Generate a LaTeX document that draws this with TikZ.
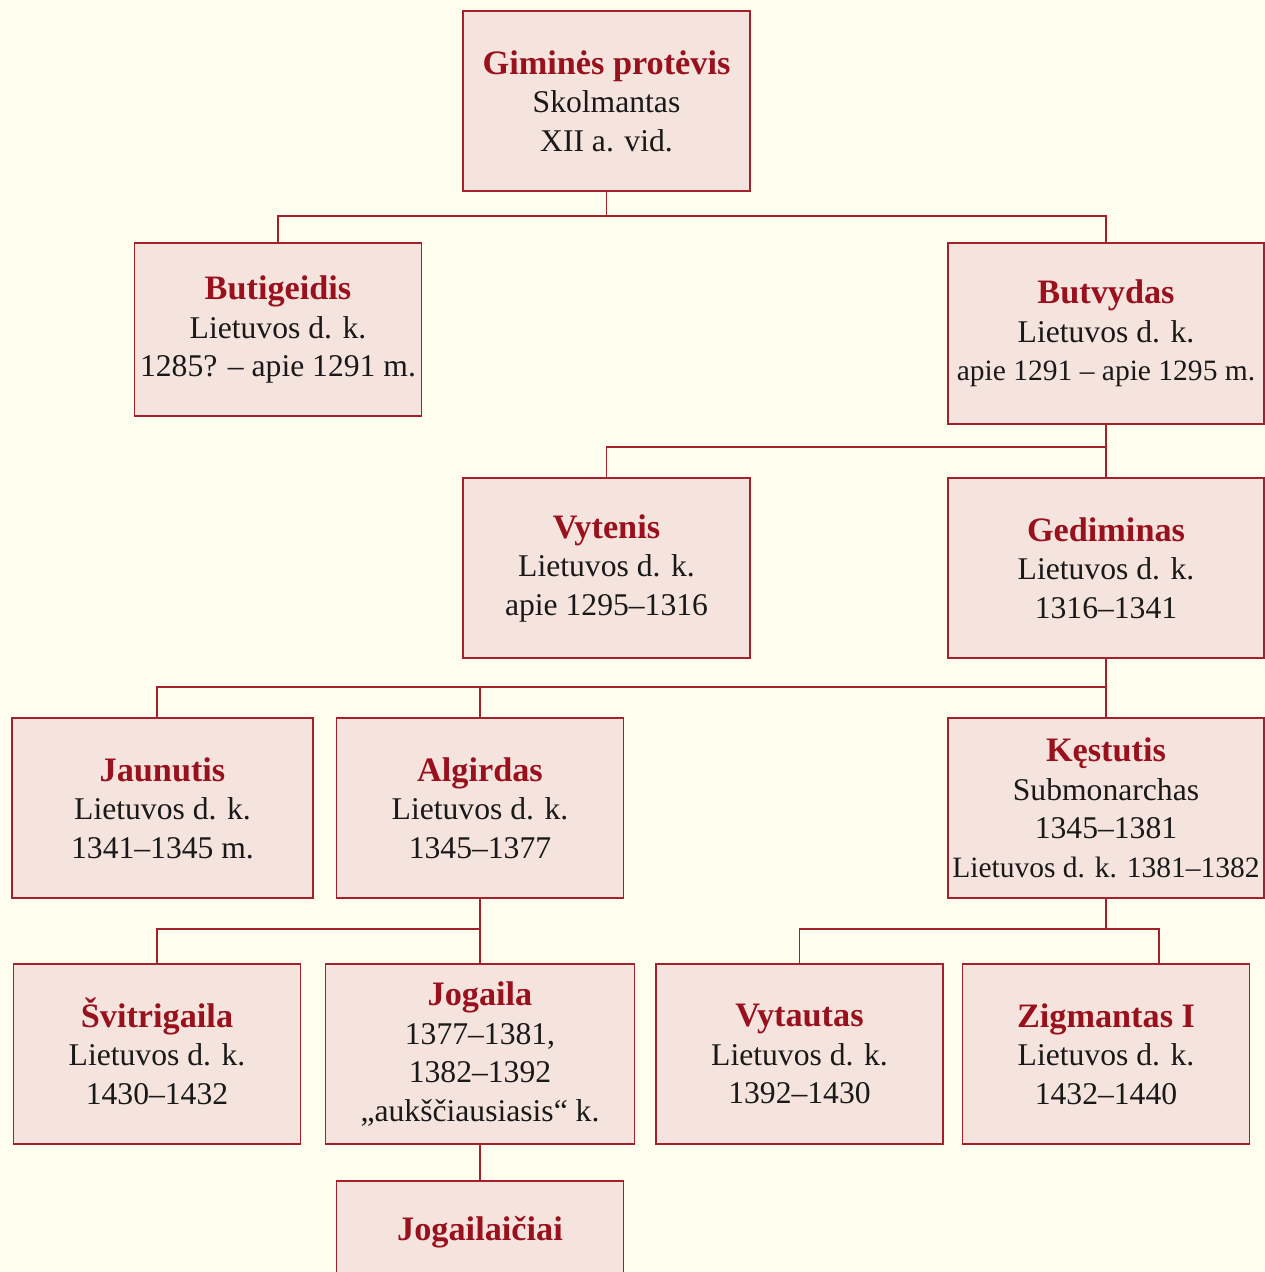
\documentclass[tikz,border=0pt]{standalone}
\usepackage{fontspec}
\setmainfont{Liberation Serif}
\usetikzlibrary{calc}
\definecolor{cream}{HTML}{FFFDEE}
\definecolor{boxfill}{HTML}{F5E4DE}
\definecolor{boxline}{HTML}{A3202C}
\definecolor{ttlred}{HTML}{9A111E}
\newcommand{\ttl}[1]{{\color{ttlred}\fontsize{19.5}{21.9}\selectfont\bfseries #1}}
\newcommand{\narrow}[1]{{\fontsize{16.8}{21.9}\selectfont #1}}

\begin{document}
\begin{tikzpicture}[x=0.02cm,y=-0.02cm,line width=0.9pt,draw=boxline,
	main node/.style={draw=boxline,fill=boxfill,text=black!90,align=center,inner sep=0pt,
		minimum width=5.74cm,minimum height=3.6cm,font=\fontsize{18}{21.9}\selectfont},
	wide node/.style={main node,minimum width=6.32cm}]
	
	\fill[cream] (0,0) rectangle (1265,1272);
	\useasboundingbox (0,0) rectangle (1265,1272);
	
	\node[main node] (proto) at (606.5,101) {\ttl{Giminės protėvis}\\Skolmantas\\XII a. vid.};
	\node[main node,minimum height=3.46cm] (butig) at (278,329.5) {\ttl{Butigeidis}\\Lietuvos d. k.\\1285? – apie 1291 m.};
	\node[wide node,minimum height=3.62cm] (butv) at (1106,333.5) {\ttl{Butvydas}\\Lietuvos d. k.\\\narrow{apie 1291 – apie 1295 m.}};
	\node[main node] (vyten) at (606.5,568) {\ttl{Vytenis}\\Lietuvos d. k.\\apie 1295–1316};
	\node[wide node] (gedim) at (1106,568) {\ttl{Gediminas}\\Lietuvos d. k.\\1316–1341};
	\node[main node,minimum width=6.02cm] (jaunut) at (162.5,808) {\ttl{Jaunutis}\\Lietuvos d. k.\\1341–1345 m.};
	\node[main node] (algird) at (480,808) {\ttl{Algirdas}\\Lietuvos d. k.\\1345–1377};
	\node[wide node] (kestut) at (1106,808) {\ttl{Kęstutis}\\Submonarchas\\1345–1381\\\narrow{Lietuvos d. k. 1381–1382}};
	\node[main node] (svitr) at (157,1054) {\ttl{\smash{Š}vitrigaila}\\Lietuvos d. k.\\1430–1432};
	\node[main node,minimum width=6.18cm] (jogail) at (480,1054) {\ttl{Jogaila}\\1377–1381,\\1382–1392\\„aukščiausiasis“ k.};
	\node[main node] (vytaut) at (799.5,1054) {\ttl{Vytautas}\\Lietuvos d. k.\\1392–1430};
	\node[main node] (zigm) at (1106,1054) {\ttl{Zigmantas I}\\Lietuvos d. k.\\1432–1440};
	\node[main node,minimum height=2.04cm] (jogailaic) at (480,1232) {\ttl{Jogailaičiai}};
	
	\coordinate (bar1) at (0,216);
	\coordinate (bar2) at (0,447);
	\coordinate (bar3) at (0,687);
	\coordinate (bar4) at (0,929);
	
	\draw (proto.south) -- (proto.south |- bar1);
	\draw (butig.north) |- (butv.north |- bar1) -- (butv.north);
	\draw (butv.south) -- (gedim.north);
	\draw (vyten.north) |- (gedim.north |- bar2);
	\draw (gedim.south) -- (kestut.north);
	\draw ([xshift=-0.11cm]jaunut.north) |- (gedim.south |- bar3);
	\draw (algird.north) -- (algird.north |- bar3);
	\draw (algird.south) -- (jogail.north);
	\draw (svitr.north) |- (algird.south |- bar4);
	\draw (kestut.south) -- (kestut.south |- bar4);
	\draw (vytaut.north) |- ([xshift=1.06cm]zigm.north |- bar4) -- ([xshift=1.06cm]zigm.north);
	\draw (jogail.south) -- (jogailaic.north);
\end{tikzpicture}
\end{document}
